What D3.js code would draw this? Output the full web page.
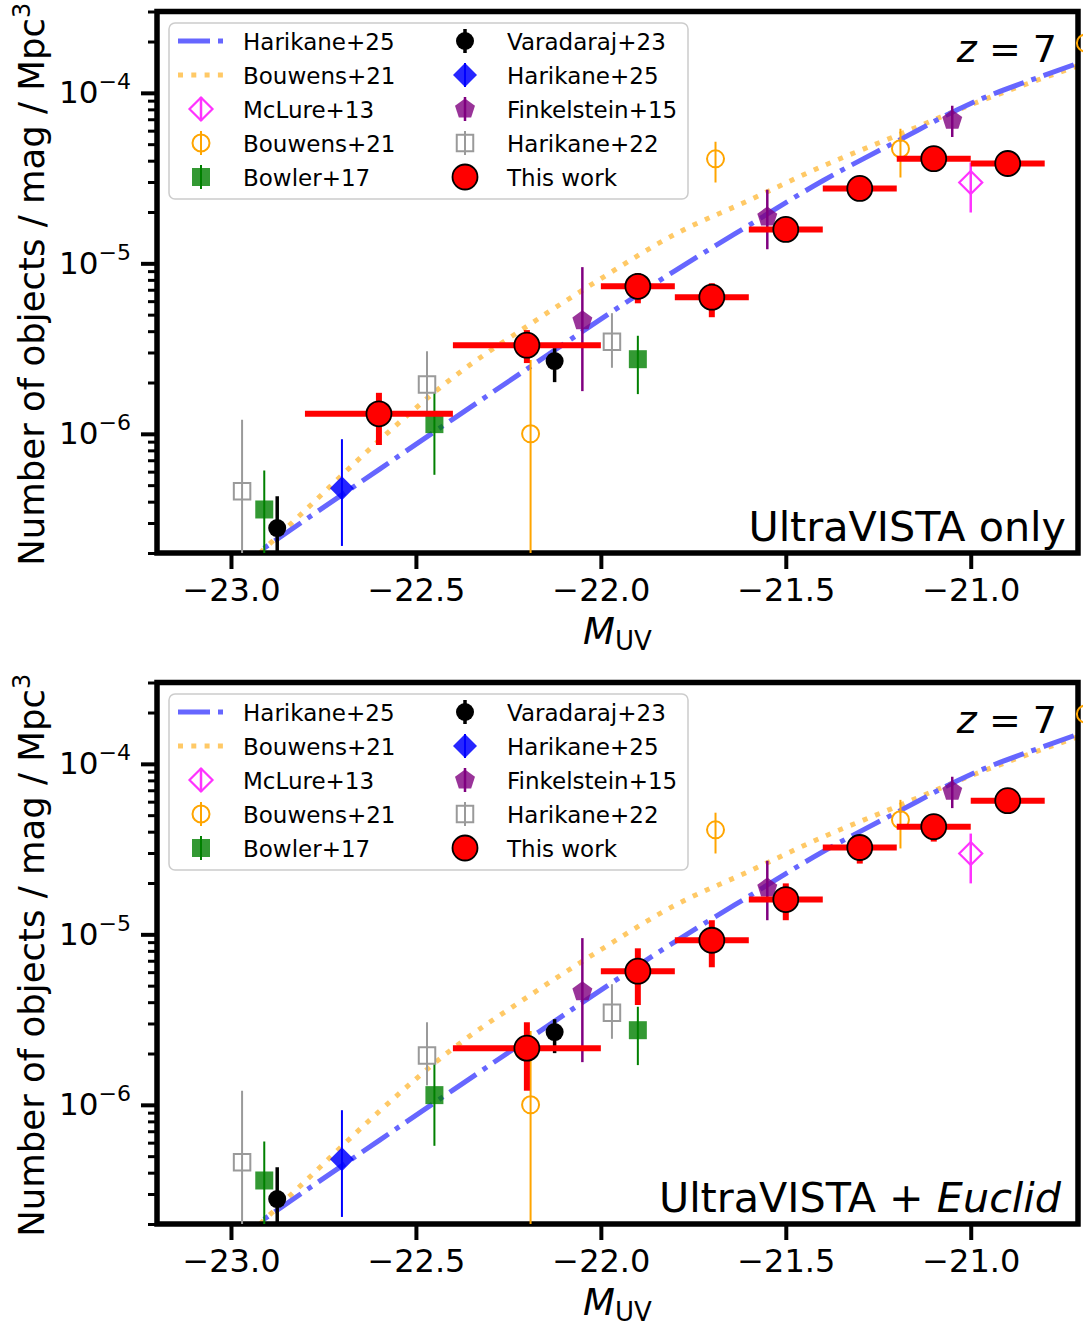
<!DOCTYPE html>
<html>
<head>
<meta charset="utf-8">
<script src="https://cdn.jsdelivr.net/npm/d3@7"></script>
<style>
  body { margin: 0; background: #fff; }
  svg { display: block; }
  text { font-family: "DejaVu Sans", sans-serif; }
</style>
</head>
<body>
<svg id="chart" width="1083" height="1327"></svg>
<script>
// ---------------- axis ranges and tick labels ----------------
const magDomain = [-23.2, -20.71];
const phiDomain = [2e-7, 3e-4];
const magTicks = [-23.0, -22.5, -22.0, -21.5, -21.0];
const magTickLabels = ["\u221223.0", "\u221222.5", "\u221222.0", "\u221221.5", "\u221221.0"];
const phiMajorTicks = [1e-6, 1e-5, 1e-4];
const phiMajorExponents = ["\u22126", "\u22125", "\u22124"];
const phiMinorTicks = [2e-7, 3e-7, 4e-7, 5e-7, 6e-7, 7e-7, 8e-7, 9e-7,
                       2e-6, 3e-6, 4e-6, 5e-6, 6e-6, 7e-6, 8e-6, 9e-6,
                       2e-5, 3e-5, 4e-5, 5e-5, 6e-5, 7e-5, 8e-5, 9e-5,
                       2e-4, 3e-4];

// ---------------- model luminosity functions (z = 7) ----------------
const modelMag       = [-23.0, -22.8, -22.6, -22.4, -22.2, -22.0, -21.8, -21.6, -21.4, -21.2, -21.0, -20.8, -20.6];
const harikane25Phi  = [1.57e-7, 3.12e-7, 6.17e-7, 1.22e-6, 2.40e-6, 4.71e-6, 9.04e-6, 1.67e-5, 3.05e-5, 5.19e-5, 8.67e-5, 1.27e-4, 1.80e-4];
const bouwens21Phi   = [1.38e-7, 3.55e-7, 9.12e-7, 2.14e-6, 4.27e-6, 8.13e-6, 1.48e-5, 2.34e-5, 3.72e-5, 5.62e-5, 8.51e-5, 1.23e-4, 1.74e-4];

// ---------------- literature measurements ----------------
const mclure13Mag = [-21.0];
const mclure13Phi = [2.98e-5];
const mclure13Lo  = [1.99e-5];
const mclure13Hi  = [3.90e-5];

const bouwens21Mag = [-22.19, -21.69, -21.19, -20.69];
const bouwens21PtPhi = [1.0e-6, 4.1e-5, 4.7e-5, 1.96e-4];
const bouwens21Lo  = [1e-9, 2.98e-5, 3.19e-5, 1.5e-4];
const bouwens21Hi  = [2.71e-6, 5.17e-5, 6.15e-5, 2.4e-4];

const bowler17Mag = [-22.91, -22.45, -21.90];
const bowler17Phi = [3.6e-7, 1.14e-6, 2.74e-6];
const bowler17Lo  = [1e-8, 5.75e-7, 1.71e-6];
const bowler17Hi  = [6.1e-7, 1.76e-6, 3.76e-6];

const varadaraj23Mag = [-22.875, -22.125];
const varadaraj23Phi = [2.8e-7, 2.67e-6];
const varadaraj23Lo  = [1e-8, 2.01e-6];
const varadaraj23Hi  = [4.3e-7, 3.18e-6];

const harikane25Mag = [-22.70];
const harikane25PtPhi = [4.8e-7];
const harikane25Lo  = [2.2e-7];
const harikane25Hi  = [9.3e-7];

const finkelstein15Mag = [-22.05, -21.55, -21.05];
const finkelstein15Phi = [4.6e-6, 1.87e-5, 6.9e-5];
const finkelstein15Lo  = [1.78e-6, 1.21e-5, 5.5e-5];
const finkelstein15Hi  = [9.5e-6, 2.7e-5, 8.4e-5];

const harikane22Mag = [-22.97, -22.47, -21.97];
const harikane22Phi = [4.6e-7, 1.95e-6, 3.47e-6];
const harikane22Lo  = [1e-8, 1.3e-6, 2.44e-6];
const harikane22Hi  = [1.21e-6, 3.05e-6, 5.1e-6];

// ---------------- this work ----------------
const uvistaMag  = [-22.6, -22.2, -21.9, -21.7, -21.5, -21.3, -21.1, -20.9];
const uvistaBin  = [0.2, 0.2, 0.1, 0.1, 0.1, 0.1, 0.1, 0.1];
const uvistaPhi  = [1.31e-6, 3.31e-6, 7.33e-6, 6.33e-6, 1.58e-5, 2.75e-5, 4.11e-5, 3.85e-5];
const uvistaLo   = [8.6e-7, 2.6e-6, 5.83e-6, 4.83e-6, 1.42e-5, 2.5e-5, 3.75e-5, 3.5e-5];
const uvistaHi   = [1.74e-6, 4.06e-6, 8.75e-6, 7.64e-6, 1.74e-5, 3.0e-5, 4.5e-5, 4.2e-5];

const euclidMag  = [-22.2, -21.9, -21.7, -21.5, -21.3, -21.1, -20.9];
const euclidBin  = [0.2, 0.1, 0.1, 0.1, 0.1, 0.1, 0.1];
const euclidPhi  = [2.15e-6, 6.08e-6, 9.23e-6, 1.60e-5, 3.23e-5, 4.28e-5, 6.08e-5];
const euclidLo   = [1.21e-6, 3.85e-6, 6.41e-6, 1.21e-5, 2.6e-5, 3.5e-5, 5.1e-5];
const euclidHi   = [3.05e-6, 8.28e-6, 1.21e-5, 1.99e-5, 3.7e-5, 4.9e-5, 6.9e-5];

// ---------------- legend ----------------
const legendCol1 = ["Harikane+25", "Bouwens+21", "McLure+13", "Bouwens+21", "Bowler+17"];
const legendCol2 = ["Varadaraj+23", "Harikane+25", "Finkelstein+15", "Harikane+22", "This work"];

// ---------------- styles ----------------
const lineStyles = {
  harikane: { color: "#6666ff", width: 5, dash: "32,8,5,8" },
  bouwens:  { color: "#ffc966", width: 5, dash: "5,8.3" }
};
const pointStyles = {
  mclure:      { shape: "diamond",  size: 11.5, fill: "none", fillOpacity: 1, stroke: "#ff33ff", sw: 2.2, ecolor: "#ff33ff", ew: 2.5 },
  bouwens:     { shape: "circle",   size: 8.5,  fill: "none", fillOpacity: 1, stroke: "#ffa500", sw: 2,   ecolor: "#ffa500", ew: 2 },
  bowler:      { shape: "square",   size: 18,   fill: "#008000", fillOpacity: 0.8, stroke: "none", sw: 0, ecolor: "#008000", ew: 2 },
  varadaraj:   { shape: "circle",   size: 9,    fill: "#000", fillOpacity: 1, stroke: "none", sw: 0, ecolor: "#000", ew: 3.5 },
  harikane25:  { shape: "diamond",  size: 12,   fill: "#0000ff", fillOpacity: 0.85, stroke: "none", sw: 0, ecolor: "#0000ff", ew: 2 },
  finkelstein: { shape: "pentagon", size: 10.5, fill: "#800080", fillOpacity: 0.8, stroke: "none", sw: 0, ecolor: "#800080", ew: 2.5 },
  harikane22:  { shape: "square",   size: 16.5, fill: "none", fillOpacity: 1, stroke: "#9a9a9a", sw: 2, ecolor: "#9a9a9a", ew: 2 },
  work:        { shape: "circle",   size: 12.5, fill: "#ff0000", fillOpacity: 1, stroke: "#000", sw: 1.8, ecolor: "#ff0000", ew: 6 }
};

const litSeries = [
  { mag: mclure13Mag, phi: mclure13Phi, lo: mclure13Lo, hi: mclure13Hi, style: pointStyles.mclure },
  { mag: bouwens21Mag, phi: bouwens21PtPhi, lo: bouwens21Lo, hi: bouwens21Hi, style: pointStyles.bouwens },
  { mag: bowler17Mag, phi: bowler17Phi, lo: bowler17Lo, hi: bowler17Hi, style: pointStyles.bowler },
  { mag: varadaraj23Mag, phi: varadaraj23Phi, lo: varadaraj23Lo, hi: varadaraj23Hi, style: pointStyles.varadaraj },
  { mag: harikane25Mag, phi: harikane25PtPhi, lo: harikane25Lo, hi: harikane25Hi, style: pointStyles.harikane25 },
  { mag: finkelstein15Mag, phi: finkelstein15Phi, lo: finkelstein15Lo, hi: finkelstein15Hi, style: pointStyles.finkelstein },
  { mag: harikane22Mag, phi: harikane22Phi, lo: harikane22Lo, hi: harikane22Hi, style: pointStyles.harikane22 }
];

// ---------------- drawing ----------------
const svg = d3.select("#chart");
const plotLeft = 157, plotRight = 1078;
const x = d3.scaleLinear().domain(magDomain).range([plotLeft, plotRight]);

function markerPath(shape, s) {
  if (shape === "circle") return d3.symbol(d3.symbolCircle, Math.PI * s * s)();
  if (shape === "square") return d3.symbol(d3.symbolSquare, s * s)();
  if (shape === "diamond") return `M0,${-s}L${s},0L0,${s}L${-s},0Z`;
  if (shape === "pentagon") {
    const pts = d3.range(5).map(k => {
      const a = -Math.PI / 2 + k * 2 * Math.PI / 5;
      return [s * Math.cos(a), s * Math.sin(a)];
    });
    return "M" + pts.map(p => p.join(",")).join("L") + "Z";
  }
}

function drawMarker(sel, st, cx, cy) {
  sel.append("path")
    .attr("d", markerPath(st.shape, st.size))
    .attr("transform", `translate(${cx},${cy})`)
    .attr("fill", st.fill)
    .attr("fill-opacity", st.fillOpacity)
    .attr("stroke", st.stroke)
    .attr("stroke-width", st.sw);
}

function drawPanel(idx, top, bottom, work, caption) {
  const y = d3.scaleLog().domain(phiDomain).range([bottom, top]);
  const g = svg.append("g");
  const clipId = "plotclip" + idx;
  g.append("clipPath").attr("id", clipId)
    .append("rect").attr("x", plotLeft).attr("y", top)
    .attr("width", plotRight - plotLeft).attr("height", bottom - top);

  // model curves
  const curve = d3.line().x(d => x(d[0])).y(d => y(d[1])).curve(d3.curveMonotoneX);
  const models = g.append("g").attr("clip-path", `url(#${clipId})`);
  [[bouwens21Phi, lineStyles.bouwens], [harikane25Phi, lineStyles.harikane]].forEach(([phi, ls]) => {
    models.append("path")
      .datum(d3.zip(modelMag, phi))
      .attr("d", curve)
      .attr("fill", "none")
      .attr("stroke", ls.color)
      .attr("stroke-width", ls.width)
      .attr("stroke-dasharray", ls.dash);
  });

  // axes
  const xAxis = d3.axisBottom(x).tickValues(magTicks).tickSize(16).tickPadding(9)
    .tickFormat((d, i) => magTickLabels[i]);
  const xa = g.append("g").attr("transform", `translate(0,${bottom})`).call(xAxis);
  xa.select(".domain").remove();
  xa.selectAll(".tick line").attr("stroke", "#000").attr("stroke-width", 4);
  xa.selectAll(".tick text").attr("font-size", 32).attr("font-family", "DejaVu Sans").attr("fill", "#000");

  const yMinor = d3.axisLeft(y).tickValues(phiMinorTicks).tickSize(9).tickFormat("");
  const ym = g.append("g").attr("transform", `translate(${plotLeft},0)`).call(yMinor);
  ym.select(".domain").remove();
  ym.selectAll(".tick line").attr("stroke", "#000").attr("stroke-width", 3);

  const yMajor = d3.axisLeft(y).tickValues(phiMajorTicks).tickSize(16).tickPadding(10).tickFormat("");
  const ya = g.append("g").attr("transform", `translate(${plotLeft},0)`).call(yMajor);
  ya.select(".domain").remove();
  ya.selectAll(".tick line").attr("stroke", "#000").attr("stroke-width", 4);
  ya.selectAll(".tick text").each(function(d, i) {
    const t = d3.select(this).attr("font-family", "DejaVu Sans").attr("fill", "#000").attr("font-size", 31);
    t.append("tspan").text("10");
    t.append("tspan").attr("font-size", 22).attr("dy", -14).text(phiMajorExponents[i]);
  });

  // frame
  g.append("rect").attr("x", plotLeft).attr("y", top)
    .attr("width", plotRight - plotLeft).attr("height", bottom - top)
    .attr("fill", "none").attr("stroke", "#000").attr("stroke-width", 5.5);

  // literature points
  litSeries.forEach(s => {
    const bars = g.append("g").attr("clip-path", `url(#${clipId})`);
    s.mag.forEach((m, i) => {
      bars.append("line")
        .attr("x1", x(m)).attr("x2", x(m))
        .attr("y1", y(s.lo[i])).attr("y2", y(s.hi[i]))
        .attr("stroke", s.style.ecolor).attr("stroke-width", s.style.ew);
    });
    const marks = g.append("g");
    s.mag.forEach((m, i) => drawMarker(marks, s.style, x(m), y(s.phi[i])));
  });

  // this work
  const st = pointStyles.work;
  const wb = g.append("g").attr("clip-path", `url(#${clipId})`);
  work.mag.forEach((m, i) => {
    wb.append("line")
      .attr("x1", x(m - work.bin[i])).attr("x2", x(m + work.bin[i]))
      .attr("y1", y(work.phi[i])).attr("y2", y(work.phi[i]))
      .attr("stroke", st.ecolor).attr("stroke-width", st.ew);
    wb.append("line")
      .attr("x1", x(m)).attr("x2", x(m))
      .attr("y1", y(work.lo[i])).attr("y2", y(work.hi[i]))
      .attr("stroke", st.ecolor).attr("stroke-width", st.ew);
  });
  const wm = g.append("g");
  work.mag.forEach((m, i) => drawMarker(wm, st, x(m), y(work.phi[i])));

  // legend
  const lg = g.append("g");
  const lgTop = top + 11.5;
  lg.append("rect").attr("x", 169).attr("y", lgTop).attr("width", 519).attr("height", 176).attr("rx", 6)
    .attr("fill", "#fff").attr("fill-opacity", 0.8).attr("stroke", "#cccccc").attr("stroke-width", 1.5);
  const rowY = i => lgTop + 18 + i * 34;
  const col1Handles = [
    { line: lineStyles.harikane }, { line: lineStyles.bouwens },
    { point: pointStyles.mclure }, { point: pointStyles.bouwens }, { point: pointStyles.bowler }
  ];
  const col2Handles = [
    { point: pointStyles.varadaraj }, { point: pointStyles.harikane25 },
    { point: pointStyles.finkelstein }, { point: pointStyles.harikane22 }, { point: pointStyles.work, nobar: true }
  ];
  function handle(h, cx, cy) {
    if (h.line) {
      lg.append("line").attr("x1", cx - 23).attr("x2", cx + 23).attr("y1", cy).attr("y2", cy)
        .attr("stroke", h.line.color).attr("stroke-width", h.line.width).attr("stroke-dasharray", h.line.dash);
    } else {
      if (!h.nobar) {
        lg.append("line").attr("x1", cx).attr("x2", cx).attr("y1", cy - 12).attr("y2", cy + 12)
          .attr("stroke", h.point.ecolor).attr("stroke-width", h.point.ew);
      }
      drawMarker(lg, h.point, cx, cy);
    }
  }
  legendCol1.forEach((lab, i) => {
    handle(col1Handles[i], 201, rowY(i));
    lg.append("text").attr("x", 243).attr("y", rowY(i) + 8.5).attr("font-size", 23).text(lab);
  });
  legendCol2.forEach((lab, i) => {
    handle(col2Handles[i], 465, rowY(i));
    lg.append("text").attr("x", 507).attr("y", rowY(i) + 8.5).attr("font-size", 23).text(lab);
  });

  // redshift tag
  const zt = g.append("text").attr("x", 1057).attr("y", top + 50).attr("text-anchor", "end").attr("font-size", 38);
  zt.append("tspan").attr("font-style", "italic").text("z");
  zt.append("tspan").text(" = 7");

  // caption
  const cap = g.append("text").attr("x", caption.x).attr("y", bottom - 12.5).attr("text-anchor", "end").attr("font-size", 41.3);
  caption.parts.forEach(p => cap.append("tspan").attr("font-style", p.italic ? "italic" : "normal").text(p.text));

  // axis titles
  const xl = g.append("text").attr("x", (plotLeft + plotRight) / 2).attr("y", bottom + 91).attr("text-anchor", "middle");
  xl.append("tspan").attr("font-size", 37).attr("font-style", "italic").text("M");
  xl.append("tspan").attr("font-size", 26).attr("dy", 6).text("UV");

  const yc = (top + bottom) / 2 + 2;
  const yl = g.append("text").attr("transform", `translate(44,${yc}) rotate(-90)`).attr("text-anchor", "middle").attr("font-size", 35.5);
  yl.append("tspan").text("Number of objects / mag / Mpc");
  yl.append("tspan").attr("font-size", 24).attr("dy", -14).text("3");
}

drawPanel(0, 11.5, 553,
  { mag: uvistaMag, bin: uvistaBin, phi: uvistaPhi, lo: uvistaLo, hi: uvistaHi },
  { x: 1066, parts: [{ text: "UltraVISTA only" }] });
drawPanel(1, 682.5, 1224,
  { mag: euclidMag, bin: euclidBin, phi: euclidPhi, lo: euclidLo, hi: euclidHi },
  { x: 1061, parts: [{ text: "UltraVISTA + " }, { text: "Euclid", italic: true }] });
</script>
</body>
</html>
